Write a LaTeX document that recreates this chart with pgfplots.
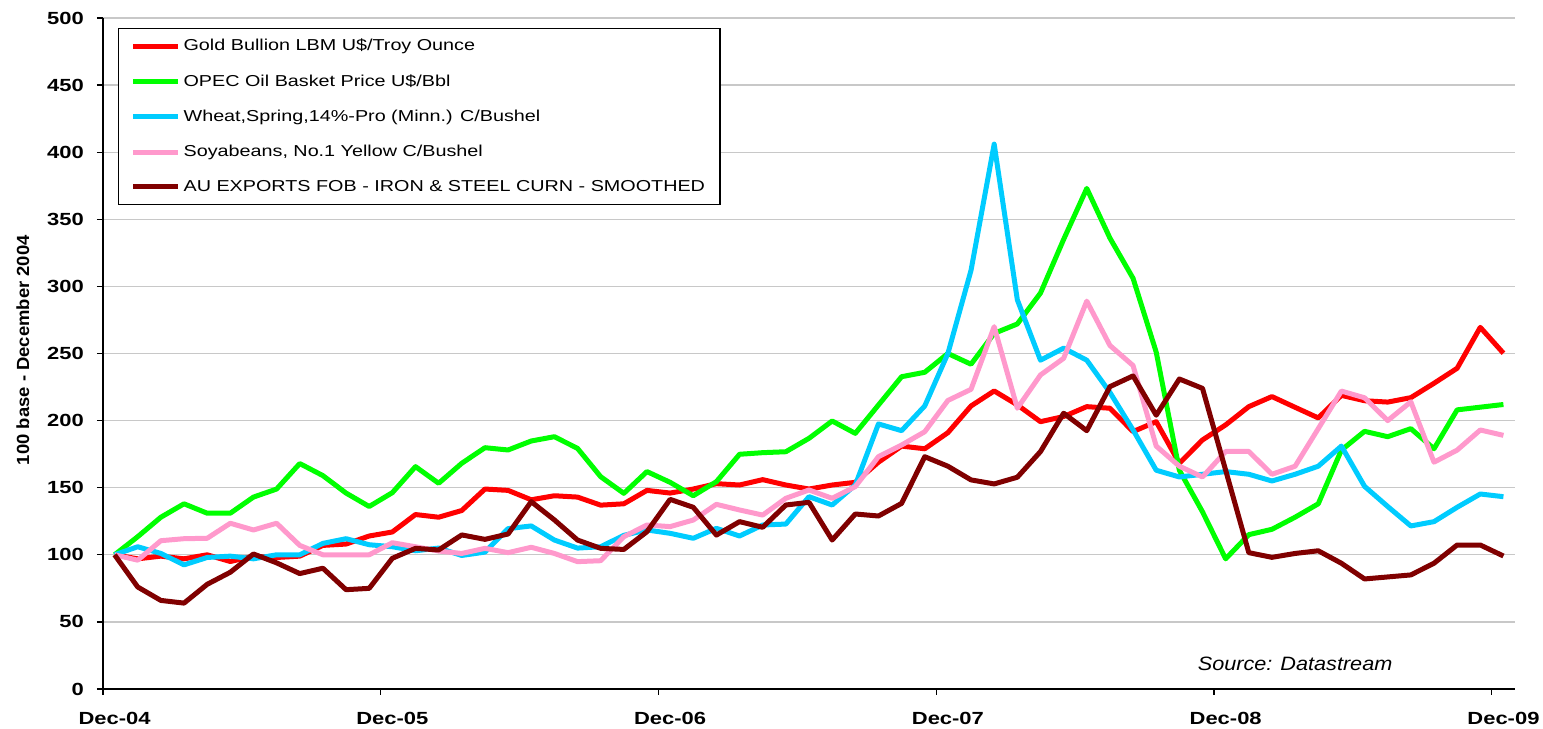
\documentclass[border=0pt]{standalone}
\usepackage{fontspec}
\setmainfont{Liberation Sans}
\newfontfamily\legfont{Liberation Sans}[FakeStretch=1.25]
\newfontfamily\tickfont{Liberation Sans}[FakeStretch=1.25]
\newfontfamily\labfont{Liberation Sans}[FakeStretch=1.05]
\newfontfamily\srcfont{Liberation Sans}[FakeStretch=1.12]
\usepackage{pgfplots}
\usepackage{pgfplotstable}
\pgfplotsset{compat=1.18}

\definecolor{goldred}{HTML}{FF0000}
\definecolor{oilgreen}{HTML}{00FF00}
\definecolor{wheatblue}{HTML}{00CCFF}
\definecolor{soypink}{HTML}{FF99CC}
\definecolor{ironred}{HTML}{800000}
\definecolor{gridgray}{HTML}{C8C8C8}

% monthly index, Dec-04 = 100
\pgfplotstableread{
i gold oil wheat soy iron
0 100 100 100 100 100
1 97 113.5 106 96 76
2 99 128 101 110.5 66
3 97 138 92.5 112 64
4 100 131 98 112.3 78
5 95 131 99 123.5 87
6 99 143 97 118.5 100.6
7 98 149 100 123.5 94
8 99 168 100 107 86
9 107 159 108.5 100 90
10 108 146 112 100 74
11 114 136 107.5 100 75
12 117 146.3 106 109 97.4
13 130 165.7 103 106 104.8
14 128 153.3 105 102.8 103.6
15 133 168.2 99.5 101 114.8
16 149 179.8 102 104.8 111.5
17 148 178.1 119.5 101.6 115.5
18 141 184.8 121.5 105.6 139.6
19 144 188 111 101 126
20 143 179.3 105 94.9 111
21 137 158.2 106 95.6 104.8
22 138 145.8 114.5 113.5 104
23 148 162 118.5 122.2 117.2
24 146 154 116 121 141.3
25 149 144 112.3 125.9 135.4
26 153 154.5 119.7 137.6 114.7
27 152 174.9 114 133.4 124.7
28 156 176.1 122.2 129.6 120.5
29 152 176.8 122.9 142.1 137.1
30 149 186.8 143.3 148.3 139.1
31 152 199.7 137.1 142.1 111
32 154 190.5 152 150.8 130.4
33 169 211.6 197.5 173.1 128.9
34 181 232.7 192.5 181.8 138.3
35 179 236 210.9 191.7 173.1
36 191 250 250 215 166
37 210.9 242 312 223.3 155.8
38 222.1 265 406 270 152.8
39 211.7 272 290 209.2 157.8
40 199.2 295 245 234 176.9
41 203 335 254 246.4 205.5
42 210.4 373 245 289 192.5
43 209.2 336 221 256 225.3
44 191.8 306 193 241 233.3
45 199.2 251 163 181 204
46 168.2 163 158 166 231
47 185.6 132 160 158 224
48 196.8 97 162 177 163
49 210.4 115 160 177 101.6
50 217.9 119 155 160 98.1
51 209.9 128 160 166 101
52 202 138 166 194 103
53 218.8 178 181 222 93.7
54 214.8 192 151 217 82
55 213.8 188 136 200 83.5
56 217.1 194 121.5 214 85
57 227.8 179 124.7 169 93.7
58 239 208 135.4 178 107.3
59 269.5 210 145.3 193 107.3
60 250.2 212 143.3 189 99.1
}\prices

\begin{document}
\begin{tikzpicture}
\begin{axis}[
    name=ax,
    scale only axis,
    width=282.4mm, height=134.2mm,
    xmin=-0.5, xmax=60.5,
    ymin=0, ymax=500,
    axis lines*=left,
    axis line style={black, line width=0.3mm},
    ytick={0,50,...,500},
    ymajorgrids,
    grid style={gridgray, line width=0.25mm},
    xtick={-0.5,11.5,23.5,35.5,47.5,59.5},
    xticklabels={Dec-04,Dec-05,Dec-06,Dec-07,Dec-08,Dec-09},
    xticklabel style={xshift=2.32mm, yshift=-2.2mm},
    yticklabel style={xshift=-1.4mm},
    tick align=outside,
    major tick length=1.2mm,
    tick style={black, line width=0.25mm},
    tick label style={font=\tickfont\bfseries\fontsize{10}{12}\selectfont},
    /pgf/number format/assume math mode=true,
    ylabel={100 base - December 2004},
    every axis y label/.style={at={(axis description cs:-0.0567,0.505)}, rotate=90,
        anchor=center, font=\labfont\bfseries\fontsize{10}{12}\selectfont},
    every axis plot/.append style={line width=1mm, line join=round, no markers},
    legend style={at={(0.0106,0.985)}, anchor=north west, draw=black,
        line width=0.25mm, fill=white,
        inner xsep=2.4mm, inner ysep=1.8mm, row sep=3.6mm,
        font=\legfont\fontsize{9}{11}\selectfont,
        nodes={inner xsep=0.6mm, inner ysep=0.3mm}},
    legend cell align=left,
    legend image code/.code={\draw[#1] plot coordinates {(0mm,0mm) (9mm,0mm)};},
]
\addplot[goldred] table[x=i, y=gold] {\prices};
\addlegendentry{Gold Bullion LBM U\$/Troy Ounce}
\addplot[oilgreen] table[x=i, y=oil] {\prices};
\addlegendentry{OPEC Oil Basket Price U\$/Bbl}
\addplot[wheatblue] table[x=i, y=wheat] {\prices};
\addlegendentry{Wheat,Spring,14\%-Pro (Minn.) C/Bushel}
\addplot[soypink] table[x=i, y=soy] {\prices};
\addlegendentry{Soyabeans, No.1 Yellow C/Bushel}
\addplot[ironred] table[x=i, y=iron] {\prices};
\addlegendentry{AU EXPORTS FOB - IRON \& STEEL CURN - SMOOTHED}

\node[font=\srcfont\itshape\fontsize{11}{13}\selectfont] at (axis cs:51,18.6) {Source: Datastream};
\end{axis}
\pgfresetboundingbox
\path ([shift={(-20.6mm,-8mm)}]ax.south west) rectangle ([shift={(5.6mm,3.6mm)}]ax.north east);
\end{tikzpicture}
\end{document}
